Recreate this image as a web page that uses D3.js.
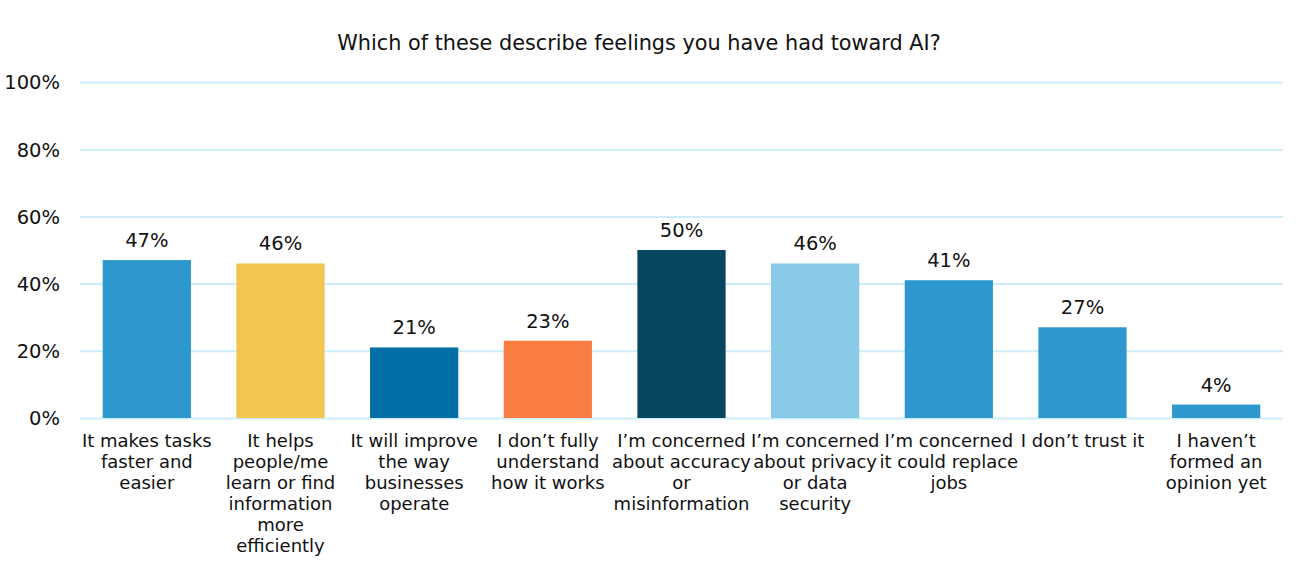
<!DOCTYPE html>
<html><head><meta charset="utf-8">
<script src="https://cdn.jsdelivr.net/npm/d3@7"></script>
<style>html,body{margin:0;padding:0;background:#fff;}svg{display:block;}</style>
</head><body>
<svg id="chart" width="1300" height="581"></svg>
<script>
const title = "Which of these describe feelings you have had toward AI?";
const categories = [
  "It makes tasks\nfaster and\neasier",
  "It helps\npeople/me\nlearn or find\ninformation\nmore\nefficiently",
  "It will improve\nthe way\nbusinesses\noperate",
  "I don\u2019t fully\nunderstand\nhow it works",
  "I\u2019m concerned\nabout accuracy\nor\nmisinformation",
  "I\u2019m concerned\nabout privacy\nor data\nsecurity",
  "I\u2019m concerned\nit could replace\njobs",
  "I don\u2019t trust it",
  "I haven\u2019t\nformed an\nopinion yet"
];
const values = [47, 46, 21, 23, 50, 46, 41, 27, 4];
const barColors = ["#2C98CD", "#F1C550", "#0270A6", "#F97D43", "#08465F", "#89CBE7", "#2C98CD", "#2C98CD", "#2C98CD"];
const yTicks = [0, 20, 40, 60, 80, 100];

const svg = d3.select("#chart");
const font = "'DejaVu Sans', Verdana, sans-serif";
const plotLeft = 80, plotRight = 1283, plotTop = 82, plotBottom = 418;

const x = d3.scaleBand().domain(d3.range(categories.length)).range([plotLeft, plotRight]).paddingInner(0.34).paddingOuter(0.17);
const y = d3.scaleLinear().domain([0, 100]).range([plotBottom, plotTop]);

// gridlines
const yAxis = d3.axisLeft(y).tickValues(yTicks).tickSize(-(plotRight - plotLeft)).tickFormat(d => d + "%");
const gAxis = svg.append("g").attr("transform", `translate(${plotLeft},0)`).call(yAxis);
gAxis.select(".domain").remove();
gAxis.selectAll(".tick line").attr("stroke", "#CDEDFA").attr("stroke-width", 2);
gAxis.selectAll(".tick text").attr("x", -20).attr("font-family", font).attr("font-size", 19.5).attr("fill", "#111").attr("dy", "0.35em");

// title
svg.append("text").attr("x", 639).attr("y", 50).attr("text-anchor", "middle")
  .attr("font-family", font).attr("font-size", 20.8).attr("fill", "#111").text(title);

// bars
svg.append("g").selectAll("rect").data(values).join("rect")
  .attr("x", (d, i) => x(i)).attr("width", x.bandwidth())
  .attr("y", d => y(d)).attr("height", d => y(0) - y(d))
  .attr("fill", (d, i) => barColors[i]);

// value labels
svg.append("g").selectAll("text").data(values).join("text")
  .attr("x", (d, i) => x(i) + x.bandwidth() / 2).attr("y", d => y(d) - 13)
  .attr("text-anchor", "middle").attr("font-family", font).attr("font-size", 19.5).attr("fill", "#111")
  .text(d => d + "%");

// category labels
const cat = svg.append("g").selectAll("text").data(categories).join("text")
  .attr("x", (d, i) => x(i) + x.bandwidth() / 2).attr("y", 447)
  .attr("text-anchor", "middle").attr("font-family", font).attr("font-size", 18).attr("fill", "#111");
cat.each(function(d, i) {
  const t = d3.select(this);
  d.split("\n").forEach((line, j) => {
    t.append("tspan").attr("x", x(i) + x.bandwidth() / 2).attr("y", 447 + j * 21).text(line);
  });
});
</script>
</body></html>
